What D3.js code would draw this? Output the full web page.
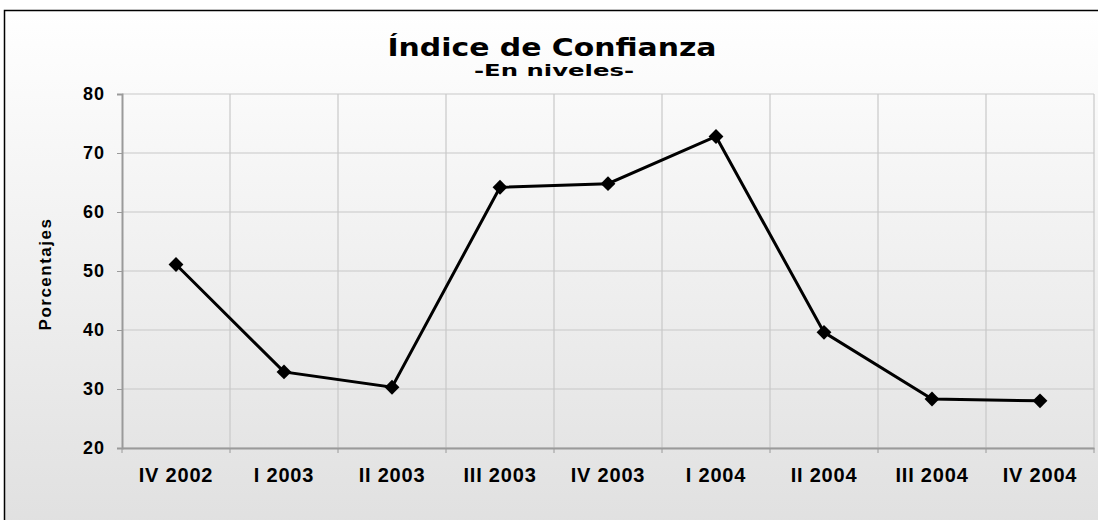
<!DOCTYPE html>
<html>
<head>
<meta charset="utf-8">
<script src="https://cdn.jsdelivr.net/npm/d3@7"></script>
<style>
  body { margin: 0; background: #fff; }
  text { font-family: "Liberation Sans", Arial, sans-serif; }
</style>
</head>
<body>
<div id="chart"></div>
<script>
var categories = ["IV 2002", "I 2003", "II 2003", "III 2003", "IV 2003", "I 2004", "II 2004", "III 2004", "IV 2004"];
var values = [51.1, 32.9, 30.3, 64.2, 64.8, 72.8, 39.6, 28.3, 28.0];
var yTicks = [20, 30, 40, 50, 60, 70, 80];

var w = 1098, h = 520;
var plotLeft = 122, plotRight = 1094, plotTop = 94, plotBottom = 448;

var svg = d3.select("#chart").append("svg")
  .attr("width", w)
  .attr("height", h);

// background gradient of the whole chart box
var defs = svg.append("defs");
var grad = defs.append("linearGradient")
  .attr("id", "bg").attr("x1", 0).attr("y1", 0).attr("x2", 0).attr("y2", 1);
grad.append("stop").attr("offset", "0%").attr("stop-color", "#ffffff");
grad.append("stop").attr("offset", "100%").attr("stop-color", "#e0e0e0");

svg.append("rect")
  .attr("x", 4.5).attr("y", 10.5)
  .attr("width", 1100).attr("height", 520)
  .attr("fill", "url(#bg)")
  .attr("stroke", "#000")
  .attr("stroke-width", 1.5);

var x = d3.scaleBand().domain(categories).range([plotLeft, plotRight]);
var y = d3.scaleLinear().domain([20, 80]).range([plotBottom, plotTop]);

// horizontal gridlines
svg.append("g").selectAll("line")
  .data(yTicks).enter().append("line")
  .attr("x1", plotLeft).attr("x2", plotRight)
  .attr("y1", function(d) { return y(d); })
  .attr("y2", function(d) { return y(d); })
  .attr("stroke", "#c8c8c8").attr("stroke-width", 1.2);

// vertical gridlines at category boundaries
svg.append("g").selectAll("line")
  .data(d3.range(1, categories.length + 1)).enter().append("line")
  .attr("x1", function(i) { return plotLeft + x.step() * i; })
  .attr("x2", function(i) { return plotLeft + x.step() * i; })
  .attr("y1", plotTop).attr("y2", plotBottom)
  .attr("stroke", "#c8c8c8").attr("stroke-width", 1.2);

// y axis
var yAxis = svg.append("g")
  .attr("transform", "translate(" + plotLeft + ",0)")
  .call(d3.axisLeft(y).tickValues(yTicks).tickSize(5).tickPadding(12));
yAxis.select(".domain").attr("stroke", "#9a9a9a").attr("stroke-width", 2);
yAxis.selectAll(".tick line").attr("stroke", "#9a9a9a");
yAxis.selectAll("text")
  .attr("fill", "#000")
  .style("font-size", "18px").style("font-weight", "bold")
  .style("letter-spacing", "1px");

// x axis
var xAxis = svg.append("g")
  .attr("transform", "translate(0," + plotBottom + ")")
  .call(d3.axisBottom(x).tickSize(0).tickPadding(20));
xAxis.select(".domain").attr("stroke", "#9a9a9a").attr("stroke-width", 2);
xAxis.selectAll("text")
  .attr("fill", "#000")
  .style("font-size", "20px").style("font-weight", "bold")
  .style("letter-spacing", "0.8px");
svg.append("g").selectAll("line")
  .data(d3.range(categories.length + 1)).enter().append("line")
  .attr("x1", function(i) { return plotLeft + x.step() * i; })
  .attr("x2", function(i) { return plotLeft + x.step() * i; })
  .attr("y1", plotBottom).attr("y2", plotBottom + 5)
  .attr("stroke", "#9a9a9a");

// data line
var line = d3.line()
  .x(function(d, i) { return x(categories[i]) + x.bandwidth() / 2; })
  .y(function(d) { return y(d); });

svg.append("path")
  .datum(values)
  .attr("d", line)
  .attr("fill", "none")
  .attr("stroke", "#000")
  .attr("stroke-width", 3);

svg.append("g").selectAll("path")
  .data(values).enter().append("path")
  .attr("d", d3.symbol().type(d3.symbolDiamond2).size(140))
  .attr("transform", function(d, i) {
    return "translate(" + (x(categories[i]) + x.bandwidth() / 2) + "," + y(d) + ")";
  })
  .attr("fill", "#000");

// titles
svg.append("text")
  .attr("x", 552).attr("y", 56)
  .attr("text-anchor", "middle")
  .attr("textLength", 329)
  .attr("lengthAdjust", "spacingAndGlyphs")
  .style("font-family", "'DejaVu Sans', sans-serif")
  .style("font-weight", "bold")
  .style("font-size", "24px")
  .text("Índice de Confianza");

svg.append("text")
  .attr("x", 554).attr("y", 76)
  .attr("text-anchor", "middle")
  .attr("textLength", 160)
  .attr("lengthAdjust", "spacingAndGlyphs")
  .style("font-family", "'DejaVu Sans', sans-serif")
  .style("font-weight", "bold")
  .style("font-size", "15px")
  .text("-En niveles-");

svg.append("text")
  .attr("transform", "translate(51,274) rotate(-90)")
  .attr("text-anchor", "middle")
  .style("font-weight", "bold")
  .style("font-size", "17px")
  .style("letter-spacing", "1.5px")
  .text("Porcentajes");
</script>
</body>
</html>
